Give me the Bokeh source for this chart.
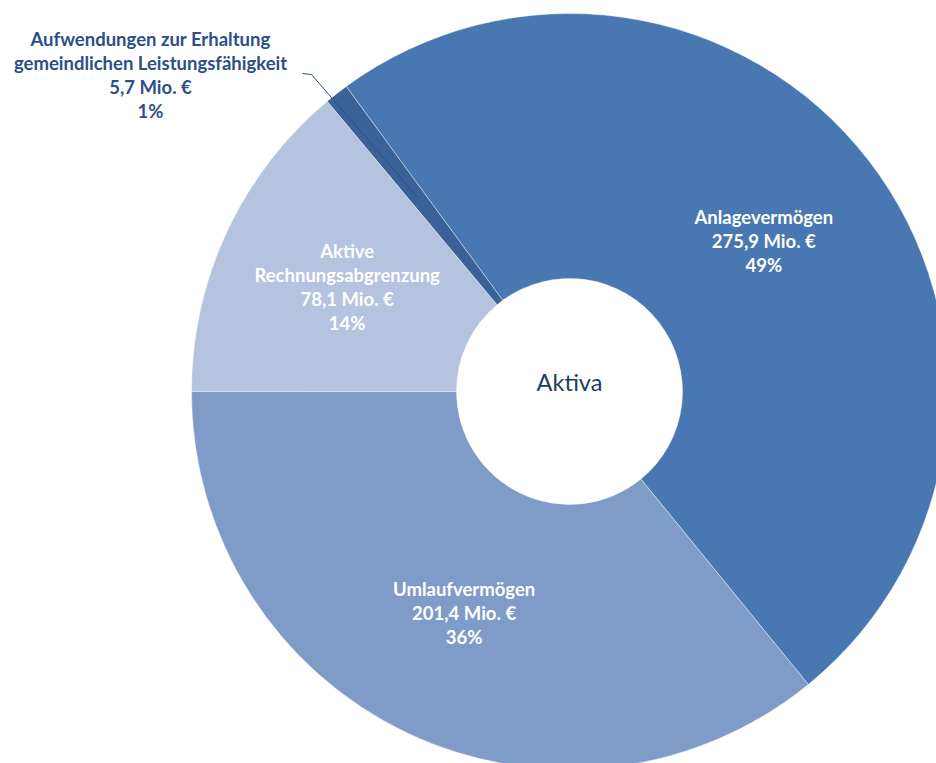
import math
from bokeh.plotting import figure
from bokeh.models import Range1d, ColumnDataSource
from bokeh.core.properties import value
from bokeh.embed import file_html
from bokeh.resources import INLINE

# ---- data ----
categories = ["Anlagevermögen", "Umlaufvermögen", "Aktive\nRechnungsabgrenzung",
              "Aufwendungen zur Erhaltung\ngemeindlichen Leistungsfähigkeit"]
values_mio = [275.9, 201.4, 78.1, 5.7]
colors = ["#4977B1", "#7F9BC7", "#B4C3DE", "#3A6298"]
center_title = "Aktiva"

# ---- layout ----
W, H = 936, 763
def dx(X):  # page px -> data x
    return X
def dy(Y):  # page px -> data y
    return H - Y

cx, cy = dx(569), dy(391)
R_out, R_in = 378, 113
start_theta = -36.2  # degrees clockwise from north

p = figure(width=W, height=H, x_range=Range1d(0, W), y_range=Range1d(0, H),
           output_backend="svg", toolbar_location=None, min_border=0)
p.axis.visible = False
p.grid.visible = False
p.outline_line_color = None
p.background_fill_color = "white"

total = sum(values_mio)
starts, ends, mids = [], [], []
th = start_theta
for v in values_mio:
    span = v / total * 360.0
    starts.append(th)
    ends.append(th + span)
    mids.append(th + span / 2)
    th += span

src = ColumnDataSource(dict(
    x=[cx] * len(values_mio), y=[cy] * len(values_mio),
    sa=[math.radians(90 - s) for s in starts],
    ea=[math.radians(90 - e) for e in ends],
    color=colors,
))
p.annular_wedge(x="x", y="y", inner_radius=R_in, outer_radius=R_out,
                start_angle="sa", end_angle="ea", direction="clock",
                fill_color="color", line_color="white", line_width=0.6,
                line_alpha=0.7, source=src)

def fmt_val(v):
    return f"{v:.1f}".replace(".", ",") + " Mio. €"

def fmt_pct(v):
    return f"{round(v / total * 100):d}%"

font = value("Lato")
line_h = 24
R_lab = (R_out + R_in) / 2

for i, (cat, v) in enumerate(zip(categories, values_mio)):
    lines = cat.split("\n") + [fmt_val(v), fmt_pct(v)]
    a = math.radians(mids[i])
    mx = cx + R_lab * math.sin(a)
    my = cy + R_lab * math.cos(a)
    if i == 3:
        # outside label with leader line
        lx, ly = dx(150), dy(74)
        col = "#2C5086"
        p.line(x=[dx(302), dx(311), mx], y=[dy(73), dy(74), my],
               line_color="#2C5086", line_width=1)
    else:
        lx, ly = mx, my
        col = "white"
    n = len(lines)
    for j, t in enumerate(lines):
        off = (j - (n - 1) / 2) * line_h
        p.text(x=[lx], y=[ly - off], text=[t], text_font=font,
               text_font_style="bold", text_font_size="18.5px",
               text_color=col, text_align="center", text_baseline="middle")

p.text(x=[cx], y=[cy + 10], text=[center_title], text_font=font,
       text_font_size="23.5px", text_color="#1F3B61",
       text_align="center", text_baseline="middle")

open("out.html", "w").write(file_html(p, INLINE))
